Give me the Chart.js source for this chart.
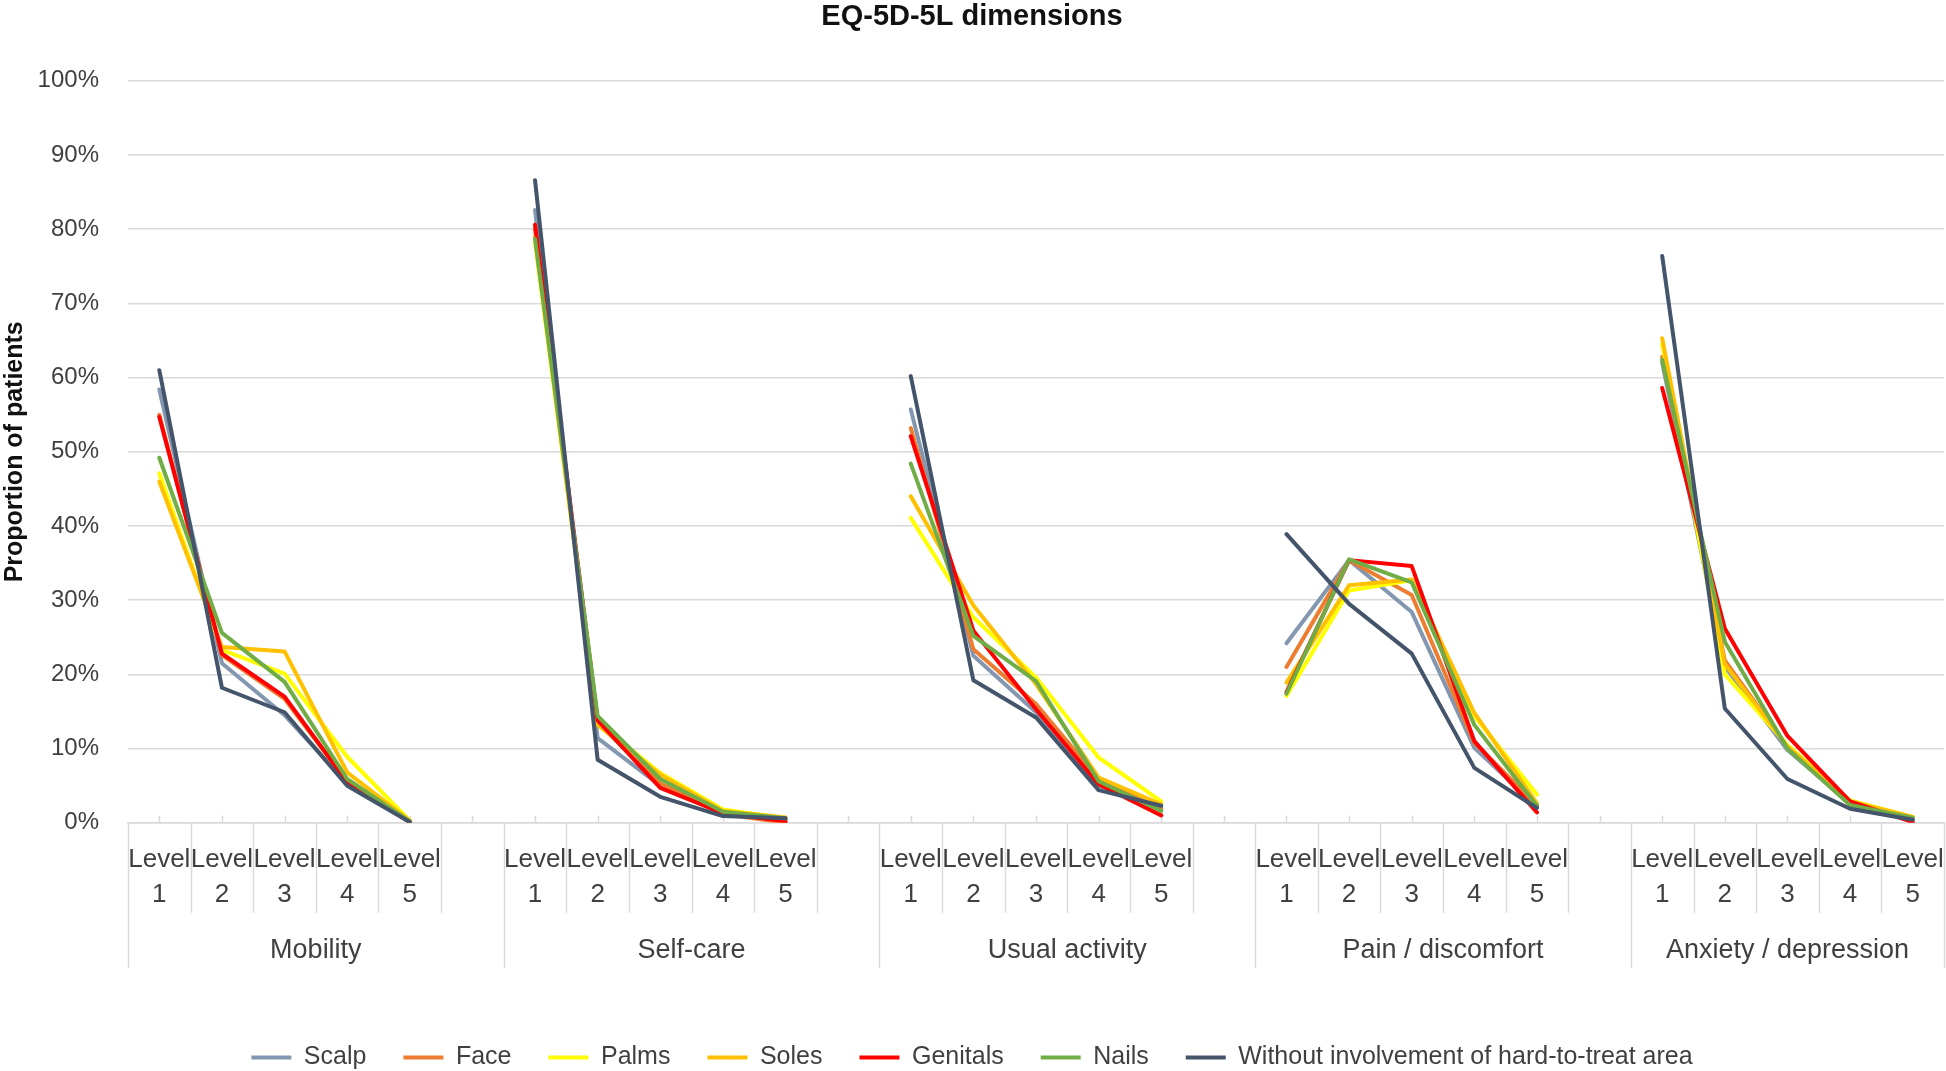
<!DOCTYPE html>
<html>
<head>
<meta charset="utf-8">
<script src="https://cdn.jsdelivr.net/npm/chart.js@4.4.1/dist/chart.umd.min.js"></script>
<style>
  html, body { margin: 0; padding: 0; background: #fff; }
  #wrap { width: 1946px; height: 1071px; position: relative; }
</style>
</head>
<body>
<div id="wrap"><canvas id="eqChart"></canvas></div>
<script>
// Dimensions (groups on the x axis) and the 5 levels in each
const dimensions = ["Mobility", "Self-care", "Usual activity", "Pain / discomfort", "Anxiety / depression"];
const levels = ["1", "2", "3", "4", "5"];

// Proportion of patients (%) per level, 5 values per dimension in the order above
const scalp    = [58.4, 21.5, 14.5, 5.3, 0.2,  82.6, 11.4, 5.0, 1.2, 0.5,  55.7, 22.5, 14.9, 5.0, 2.0,  24.2, 35.4, 28.4, 10.1, 2.2,  62.0, 21.1, 9.8, 2.6, 0.5];
const face     = [55.0, 22.6, 16.7, 5.5, 0.1,  80.0, 13.5, 5.3, 1.2, 0.0,  53.2, 23.4, 16.0, 5.9, 1.8,  21.0, 35.4, 30.7, 10.8, 2.4,  62.8, 21.9, 10.2, 2.7, 0.6];
const palms    = [47.1, 23.3, 20.1, 8.9, 0.3,  78.2, 13.5, 6.7, 1.8, 0.6,  41.1, 27.7, 19.6, 8.8, 2.9,  17.1, 31.3, 32.7, 14.4, 3.8,  64.5, 20.0, 10.5, 3.0, 0.8];
const soles    = [46.0, 23.7, 23.1, 6.8, 0.3,  79.0, 13.2, 6.5, 1.6, 0.7,  44.0, 29.3, 18.7, 6.1, 2.5,  18.9, 32.0, 32.8, 14.8, 2.6,  65.3, 21.4, 10.3, 2.9, 0.8];
const genitals = [54.7, 22.8, 17.0, 5.5, 0.1,  80.6, 13.8, 4.7, 1.3, 0.2,  52.1, 25.9, 15.3, 5.2, 1.0,  17.6, 35.4, 34.6, 11.0, 1.4,  58.6, 26.2, 11.7, 2.9, 0.1];
const nails    = [49.2, 25.6, 19.0, 5.9, 0.2,  78.7, 14.4, 5.9, 1.5, 0.6,  48.4, 25.2, 19.1, 5.6, 1.6,  17.4, 35.5, 32.4, 13.2, 2.3,  62.4, 24.4, 10.0, 2.4, 0.7];
const without  = [61.0, 18.2, 14.9, 5.0, 0.1,  86.6, 8.5, 3.5, 0.9, 0.6,  60.2, 19.2, 14.2, 4.4, 2.3,  38.9, 29.5, 22.8, 7.4, 2.0,  76.4, 15.4, 5.9, 1.9, 0.4];

const yTicks = [0, 10, 20, 30, 40, 50, 60, 70, 80, 90, 100];

const seriesNames = ["Scalp", "Face", "Palms", "Soles", "Genitals", "Nails", "Without involvement of hard-to-treat area"];
const seriesValues = [scalp, face, palms, soles, genitals, nails, without];
const seriesColors = ["#8497B0", "#ED7D31", "#FFFF00", "#FFC000", "#FF0000", "#70AD47", "#44546A"];

// category slots: 5 levels per dimension, one empty slot between dimensions
const labels = [];
const groupStarts = [];
dimensions.forEach((d, g) => {
  groupStarts.push(labels.length);
  levels.forEach((l) => labels.push(["Level", l]));
  if (g < dimensions.length - 1) labels.push("");
});
groupStarts.push(labels.length);
const groupCenters = dimensions.map((d, g) => (groupStarts[g] + groupStarts[g + 1] - 1) / 2);

function withGaps(values) {
  const out = [];
  dimensions.forEach((d, g) => {
    out.push(...values.slice(g * levels.length, (g + 1) * levels.length));
    if (g < dimensions.length - 1) out.push(null);
  });
  return out;
}

const gridColor = "#d9d9d9";
const textColor = "#404040";
Chart.defaults.font.family = "'Liberation Sans', Arial, sans-serif";

// separators under the category axis, like the Excel multi-level axis
const separators = {
  id: "separators",
  beforeDatasetsDraw(chart) {
    const { ctx } = chart;
    const x = chart.scales.x;
    const x2 = chart.scales.x2;
    const step = x.getPixelForValue(1) - x.getPixelForValue(0);
    const first = x.getPixelForValue(0) - step / 2;
    ctx.save();
    ctx.strokeStyle = gridColor;
    ctx.lineWidth = 1.5;
    ctx.beginPath();
    for (let i = 0; i <= labels.length; i++) {
      const px = Math.min(Math.round(first + i * step) + 0.5, chart.width - 1.5);
      const edge = groupStarts.includes(i);
      ctx.moveTo(px, x.top);
      ctx.lineTo(px, edge ? x2.top + 37 : x.top + 90);
    }
    for (let i = 0; i < labels.length; i++) {
      const px = Math.round(x.getPixelForValue(i)) + 0.5;
      ctx.moveTo(px, x.top - 7);
      ctx.lineTo(px, x.top);
    }
    ctx.stroke();
    ctx.restore();
  },
};

const ctx = document.getElementById("eqChart").getContext("2d");
const eqChart = new Chart(ctx, {
  type: "line",
  data: {
    labels: labels,
    datasets: seriesNames.map((name, i) => ({
      label: name,
      data: withGaps(seriesValues[i]),
      borderColor: seriesColors[i],
      backgroundColor: seriesColors[i],
      borderWidth: 4,
      pointRadius: 0,
      tension: 0,
      spanGaps: false,
      borderJoinStyle: "round",
      borderCapStyle: "round",
      order: seriesNames.length - i,
    })),
  },
  options: {
    responsive: true,
    maintainAspectRatio: false,
    animation: false,
    layout: { padding: { left: 0, right: 2, top: 0, bottom: -9 } },
    plugins: {
      title: {
        display: true,
        text: "EQ-5D-5L dimensions",
        color: "#111",
        font: { size: 29, weight: "bold", lineHeight: 1.2 },
        padding: { top: 0, bottom: 46 },
      },
      legend: {
        position: "bottom",
        labels: {
          boxWidth: 40,
          boxHeight: 4,
          padding: 37,
          color: textColor,
          font: { size: 25 },
          sort: (a, b) => a.datasetIndex - b.datasetIndex,
          generateLabels: (chart) =>
            Chart.defaults.plugins.legend.labels.generateLabels(chart).map((l) => ({ ...l, lineWidth: 0 })),
        },
      },
      tooltip: { enabled: false },
    },
    scales: {
      y: {
        min: 0,
        max: 100,
        afterBuildTicks: (axis) => { axis.ticks = yTicks.map((v) => ({ value: v })); },
        afterFit: (axis) => { axis.width = 128; },
        ticks: { callback: (v) => v + "%", color: textColor, font: { size: 24 }, padding: 29 },
        grid: { color: gridColor, lineWidth: 1.5, drawTicks: false },
        border: { display: false },
        title: {
          display: true,
          text: "Proportion of patients",
          color: "#111",
          font: { size: 25, weight: "bold", lineHeight: 1.2 },
          padding: 0,
        },
      },
      x: {
        type: "category",
        offset: true,
        grid: { display: false, drawTicks: false },
        border: { display: true, color: gridColor, width: 1.5 },
        afterFit: (axis) => { axis.paddingLeft = 0; axis.paddingRight = 0; },
        ticks: {
          autoSkip: false,
          maxRotation: 0,
          minRotation: 0,
          padding: 19,
          color: textColor,
          font: { size: 26, lineHeight: 1.35 },
        },
      },
      x2: {
        type: "linear",
        position: "bottom",
        min: -0.5,
        max: labels.length - 0.5,
        grid: { display: false, drawTicks: false },
        border: { display: false },
        afterBuildTicks: (axis) => { axis.ticks = groupCenters.map((v) => ({ value: v })); },
        afterFit: (axis) => { axis.height = 77; axis.paddingLeft = 0; axis.paddingRight = 0; },
        ticks: {
          autoSkip: false,
          maxRotation: 0,
          padding: 1,
          color: textColor,
          font: { size: 27, lineHeight: 1.35 },
          callback: (v, i) => dimensions[i],
        },
      },
    },
  },
  plugins: [separators],
});
</script>
</body>
</html>
